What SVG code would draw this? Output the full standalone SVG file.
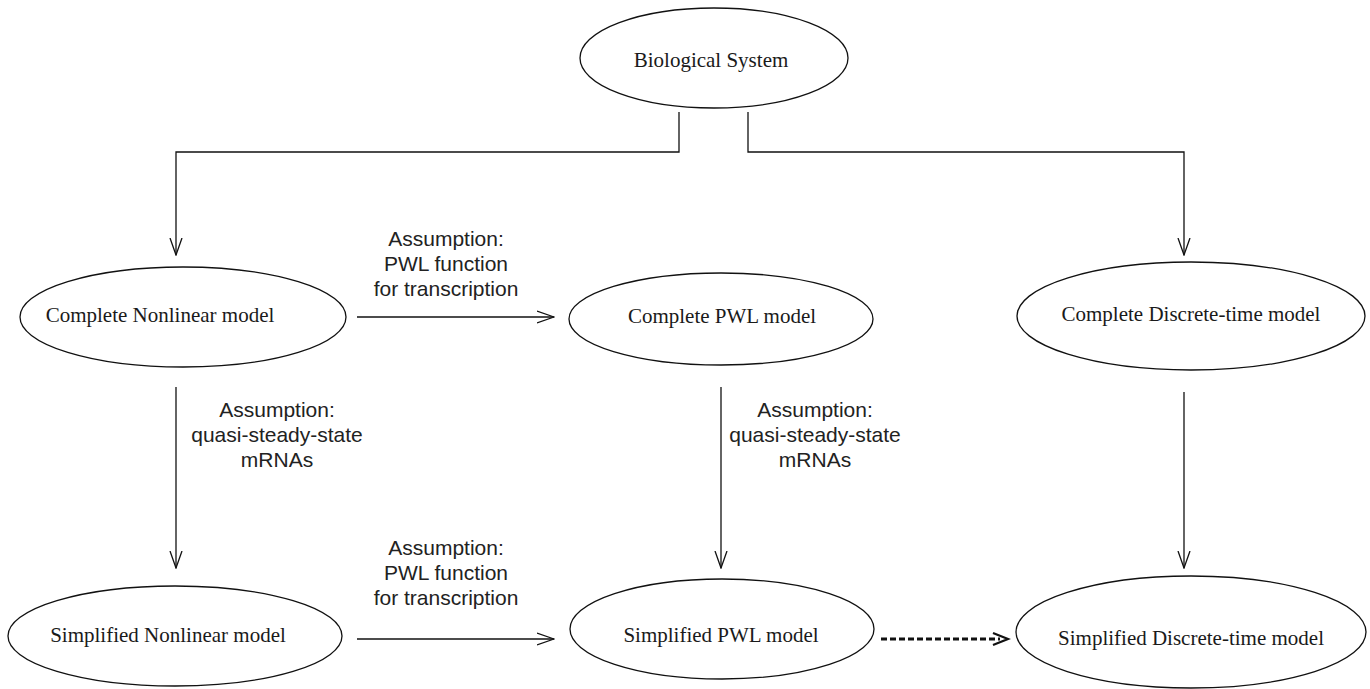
<svg xmlns="http://www.w3.org/2000/svg" width="1370" height="689" viewBox="0 0 1370 689">
<style>
.node{fill:#fff;stroke:#111;stroke-width:1.3}
.nt{font-family:"Liberation Serif","Times New Roman",serif;font-size:21px;fill:#1a1a1a;text-anchor:middle}
.lb{font-family:"Liberation Sans",Arial,sans-serif;font-size:21px;fill:#222;text-anchor:middle}
.c{fill:none;stroke:#111;stroke-width:1.3}
.d{fill:none;stroke:#111;stroke-width:3.2;stroke-dasharray:6 3}
</style>
<defs>
<marker id="arr" viewBox="0 0 18 14" refX="17" refY="7" markerWidth="18" markerHeight="14" orient="auto" markerUnits="userSpaceOnUse">
<path d="M0,1 L17,7 L0,13" fill="none" stroke="#111" stroke-width="1.3"/>
</marker>
</defs>
<g id="connectors">
<path class="c" d="M679,112 V152 H176 V255" marker-end="url(#arr)"/>
<path class="c" d="M748,112 V152 H1184 V255" marker-end="url(#arr)"/>
<path class="c" d="M357,317 H554" marker-end="url(#arr)"/>
<path class="c" d="M176,387 V568" marker-end="url(#arr)"/>
<path class="c" d="M721,387 V568" marker-end="url(#arr)"/>
<path class="c" d="M1184,392 V568" marker-end="url(#arr)"/>
<path class="c" d="M357,639 H554" marker-end="url(#arr)"/>
<path class="d" d="M881,639 H1000"/>
<path d="M993,633 L1008,639 L993,645" fill="none" stroke="#111" stroke-width="2.2"/>
<g id="labels">
<text class="lb" x="446" y="246">Assumption:</text>
<text class="lb" x="446" y="271">PWL function</text>
<text class="lb" x="446" y="296">for transcription</text>
<text class="lb" x="277" y="417">Assumption:</text>
<text class="lb" x="277" y="442">quasi-steady-state</text>
<text class="lb" x="277" y="467">mRNAs</text>
<text class="lb" x="815" y="417">Assumption:</text>
<text class="lb" x="815" y="442">quasi-steady-state</text>
<text class="lb" x="815" y="467">mRNAs</text>
<text class="lb" x="446" y="555">Assumption:</text>
<text class="lb" x="446" y="580">PWL function</text>
<text class="lb" x="446" y="605">for transcription</text>
</g>
</g>
<g id="bio"><ellipse class="node" cx="714" cy="58" rx="134" ry="50"/><text class="nt" x="711" y="67">Biological System</text></g>
<g id="complete-nonlinear"><ellipse class="node" cx="183" cy="317" rx="163" ry="50"/><text class="nt" x="160" y="322">Complete Nonlinear model</text></g>
<g id="complete-pwl"><ellipse class="node" cx="721" cy="319" rx="152" ry="46"/><text class="nt" x="722" y="323">Complete PWL model</text></g>
<g id="complete-discrete"><ellipse class="node" cx="1191" cy="316" rx="174" ry="54"/><text class="nt" x="1191" y="321">Complete Discrete-time model</text></g>
<g id="simplified-nonlinear"><ellipse class="node" cx="175" cy="636" rx="167" ry="50"/><text class="nt" x="168" y="642">Simplified Nonlinear model</text></g>
<g id="simplified-pwl"><ellipse class="node" cx="722" cy="629" rx="152" ry="50"/><text class="nt" x="721" y="642">Simplified PWL model</text></g>
<g id="simplified-discrete"><ellipse class="node" cx="1191" cy="632" rx="175" ry="56"/><text class="nt" x="1191" y="645">Simplified Discrete-time model</text></g>
</svg>
